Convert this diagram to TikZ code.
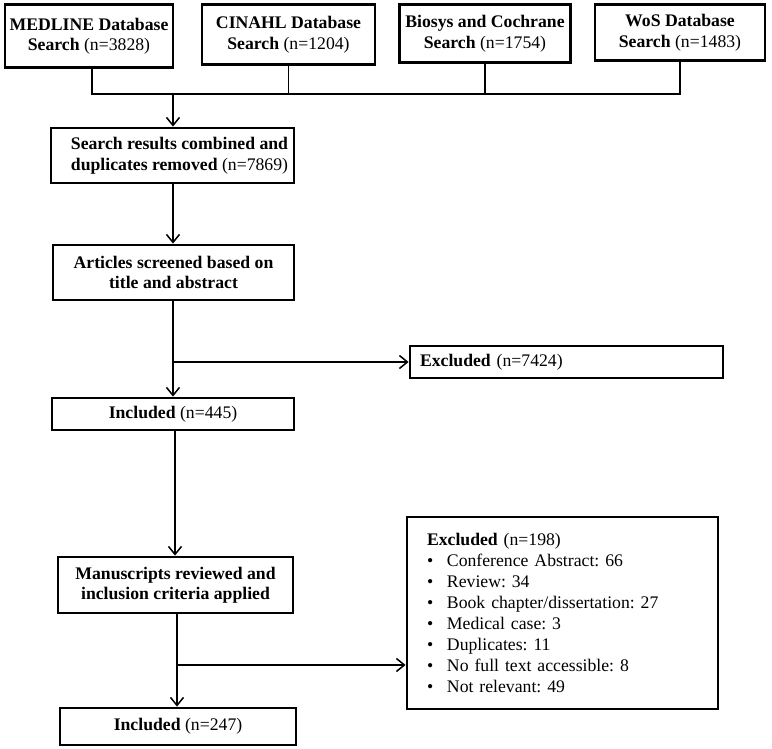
\documentclass[tikz,border=0pt]{standalone}
\usepackage{fontspec}
\setmainfont{Liberation Serif}
\usetikzlibrary{arrows.meta}
\frenchspacing
\begin{document}
\frenchspacing
\begin{tikzpicture}[x=1pt,y=-1pt,
  box/.style={draw,line width=2.8pt,rectangle,inner sep=0pt,align=center,
    font=\fontsize{17.7}{20.5}\selectfont\frenchspacing},
  conn/.style={line width=1.5pt},
  arr/.style={conn,-{Straight Barb[length=8pt,width=13pt]}}]
\useasboundingbox (0,0) rectangle (772,749);
\node[box,minimum width=168pt,minimum height=63pt] (med) at (89,36)
  {\textbf{MEDLINE Database}\\\textbf{Search} (n=3828)};
\node[box,minimum width=173pt,minimum height=60pt] (cin) at (288.5,34.5)
  {\textbf{CINAHL Database}\\\textbf{Search} (n=1204)};
\node[box,minimum width=171pt,minimum height=58pt] (bio) at (485,33.5)
  {\textbf{Biosys and Cochrane}\\\textbf{Search} (n=1754)};
\node[box,minimum width=170pt,minimum height=56pt] (wos) at (680,32.5)
  {\textbf{WoS Database}\\\textbf{Search} (n=1483)};
\coordinate (hl) at (92,94);
\coordinate (hr) at (680,94);
\coordinate (hm) at (173,94);
\node[box,minimum width=243pt,minimum height=55pt] (comb) at (172.5,155.5)
  {\hspace*{14pt}\textbf{Search results combined and}\\\hspace*{14pt}\textbf{duplicates removed} (n=7869)};
\node[box,minimum width=241pt,minimum height=55pt] (art) at (173.5,272.5)
  {\textbf{Articles screened based on}\\\textbf{title and abstract}};
\node[box,minimum height=32pt,text width=293pt,inner xsep=10pt,align=left] (exc1) at (566.5,362)
  {\textbf{Excluded} (n=7424)};
\node[box,minimum width=242pt,minimum height=32pt] (inc1) at (173,414)
  {\textbf{Included} (n=445)};
\node[box,minimum width=235pt,minimum height=56pt] (man) at (175.5,585)
  {\textbf{Manuscripts reviewed and}\\\textbf{inclusion criteria applied}};
\node[box,minimum height=192pt,text width=271pt,inner xsep=20pt,align=left,
  font=\fontsize{17.7}{21}\selectfont\frenchspacing] (exc2) at (562.5,613)
  {\textbf{Excluded} (n=198)\\
   \makebox[20pt][l]{\textbullet}Conference Abstract: 66\\
   \makebox[20pt][l]{\textbullet}Review: 34\\
   \makebox[20pt][l]{\textbullet}Book chapter/dissertation: 27\\
   \makebox[20pt][l]{\textbullet}Medical case: 3\\
   \makebox[20pt][l]{\textbullet}Duplicates: 11\\
   \makebox[20pt][l]{\textbullet}No full text accessible: 8\\
   \makebox[20pt][l]{\textbullet}Not relevant: 49};
\node[box,minimum width=236pt,minimum height=37pt] (inc2) at (178,726.5)
  {\textbf{Included} (n=247)};
% connectors
\draw[conn] (med.south -| hl) -- (hl) -- (hr) -- (wos.south -| hr);
\draw[conn] (cin.south) -- (cin.south |- hl);
\draw[conn] (bio.south) -- (bio.south |- hl);
\draw[arr] (hm) -- (comb.north -| hm);
\draw[arr] (comb.south -| hm) -- (art.north -| hm);
\coordinate (b1) at (173,362);
\draw[arr] (art.south -| b1) -- (inc1.north -| b1);
\draw[arr] (b1) -- (exc1.west);
\coordinate (t2) at (175,0);
\draw[arr] (inc1.south -| t2) -- (man.north -| t2);
\coordinate (b2) at (177,665);
\draw[arr] (man.south -| b2) -- (inc2.north -| b2);
\draw[arr] (b2) -- (exc2.west |- b2);
\end{tikzpicture}
\end{document}
